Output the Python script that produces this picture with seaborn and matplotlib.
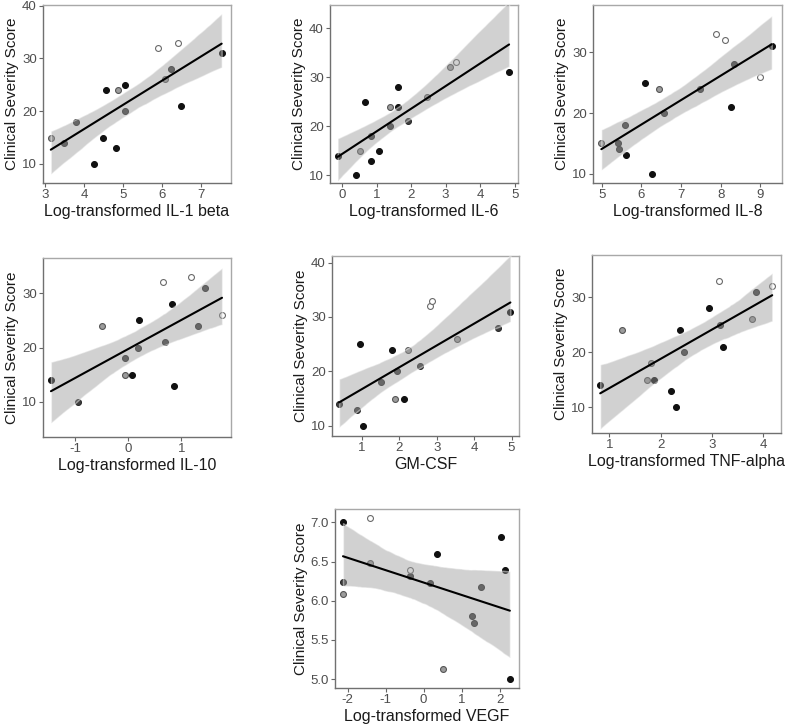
import matplotlib
matplotlib.use('Agg')
import matplotlib.pyplot as plt
import seaborn as sns
import pandas as pd

# --- data ---
il1b_x = [3.15, 3.50, 3.80, 4.26, 4.50, 4.56, 4.87, 5.04, 5.05, 4.82, 5.90, 6.07, 6.42, 6.24, 6.48, 7.53]
il1b_y = [15, 14, 18, 10, 15, 24, 24, 25, 20, 13, 32, 26, 33, 28, 21, 31]
il1b_shade = ['g', 'd', 'd', 'k', 'k', 'k', 'g', 'k', 'd', 'k', 'o', 'g', 'o', 'd', 'k', 'k']

il6_x = [-0.13, 0.39, 0.53, 0.67, 0.85, 0.84, 1.07, 1.38, 1.39, 1.62, 1.62, 1.90, 2.46, 3.13, 3.31, 4.84]
il6_y = [14, 10, 15, 25, 18, 13, 15, 24, 20, 28, 24, 21, 26, 32, 33, 31]
il6_shade = ['k', 'k', 'g', 'k', 'd', 'k', 'k', 'g', 'd', 'k', 'k', 'd', 'g', 'g', 'o', 'k']

il8_x = [4.99, 5.40, 5.44, 5.60, 5.61, 6.10, 6.27, 6.44, 6.58, 7.48, 7.88, 8.11, 8.26, 8.33, 8.99, 9.29]
il8_y = [15, 15, 14, 18, 13, 25, 10, 24, 20, 24, 33, 32, 21, 28, 26, 31]
il8_shade = ['g', 'd', 'd', 'd', 'k', 'k', 'k', 'g', 'd', 'd', 'o', 'o', 'k', 'd', 'o', 'k']

il10_x = [-1.46, -0.95, -0.50, -0.06, -0.06, 0.07, 0.18, 0.20, 0.65, 0.70, 0.83, 0.87, 1.18, 1.32, 1.45, 1.77]
il10_y = [14, 10, 24, 18, 15, 15, 20, 25, 32, 21, 28, 13, 33, 24, 31, 26]
il10_shade = ['k', 'd', 'g', 'd', 'g', 'k', 'd', 'k', 'o', 'd', 'k', 'k', 'o', 'd', 'd', 'o']

gmcsf_x = [0.39, 0.88, 0.96, 1.03, 1.51, 1.80, 1.88, 1.95, 2.13, 2.24, 2.55, 2.81, 2.88, 3.55, 4.63, 4.97]
gmcsf_y = [14, 13, 25, 10, 18, 24, 15, 20, 15, 24, 21, 32, 33, 26, 28, 31]
gmcsf_shade = ['d', 'd', 'k', 'k', 'd', 'k', 'g', 'd', 'k', 'g', 'd', 'o', 'o', 'g', 'd', 'k']

tnf_x = [0.82, 1.24, 1.74, 1.87, 1.80, 2.19, 2.30, 2.37, 2.45, 2.94, 3.13, 3.16, 3.22, 3.78, 3.86, 4.17]
tnf_y = [14, 24, 15, 15, 18, 13, 10, 24, 20, 28, 33, 25, 21, 26, 31, 32]
tnf_shade = ['k', 'g', 'g', 'k', 'g', 'k', 'k', 'k', 'd', 'k', 'o', 'd', 'k', 'g', 'd', 'o']

vegf_x = [-2.12, -2.12, -2.12, -1.42, -1.41, -0.35, -0.35, 0.18, 0.35, 0.50, 1.27, 1.33, 1.51, 2.03, 2.15, 2.27]
vegf_y = [7.00, 6.24, 6.09, 7.06, 6.48, 6.39, 6.32, 6.23, 6.60, 5.13, 5.80, 5.72, 6.18, 6.81, 6.39, 5.00]
vegf_shade = ['k', 'd', 'g', 'o', 'g', 'o', 'd', 'd', 'k', 'g', 'd', 'd', 'd', 'k', 'k', 'k']

xlabels = ['Log-transformed IL-1 beta', 'Log-transformed IL-6', 'Log-transformed IL-8',
           'Log-transformed IL-10', 'GM-CSF', 'Log-transformed TNF-alpha',
           'Log-transformed VEGF']
ylabel = 'Clinical Severity Score'

# marker look for each shade code: (face, edge)
shade_style = {
    'k': ('#111111', '#111111'),
    'd': ('#3f3f3f', '#2a2a2a'),
    'g': ('#9c9c9c', '#555555'),
    'o': ('#ffffff', '#6a6a6a'),
}

sns.set_style('white')
plt.rcParams['font.family'] = ['Liberation Sans', 'DejaVu Sans']
plt.rcParams['axes.unicode_minus'] = False

fig = plt.figure(figsize=(7.89, 7.27), dpi=100)

# panel boxes in figure fractions [left, bottom, width, height]
boxes = [
    [0.0545, 0.7483, 0.2383, 0.2448],
    [0.4183, 0.7483, 0.2383, 0.2448],
    [0.7516, 0.7483, 0.2395, 0.2448],
    [0.0545, 0.3989, 0.2383, 0.2462],
    [0.4208, 0.4003, 0.2370, 0.2476],
    [0.7503, 0.4044, 0.2395, 0.2448],
    [0.4246, 0.0536, 0.2332, 0.2462],
]
xlims = [(2.95, 7.77), (-0.35, 5.1), (4.78, 9.55), (-1.61, 1.94), (0.2, 5.2), (0.66, 4.34), (-2.33, 2.51)]
ylims = [(6.4, 40.1), (8.45, 44.7), (8.47, 37.8), (3.54, 36.5), (8.16, 41.2), (5.27, 37.7), (4.885, 7.17)]
xticks = [[3, 4, 5, 6, 7], [0, 1, 2, 3, 4, 5], [5, 6, 7, 8, 9], [-1, 0, 1], [1, 2, 3, 4, 5], [1, 2, 3, 4], [-2, -1, 0, 1, 2]]
yticks = [[10, 20, 30, 40], [10, 20, 30, 40], [10, 20, 30], [10, 20, 30], [10, 20, 30, 40], [10, 20, 30],
          [5.0, 5.5, 6.0, 6.5, 7.0]]

panels = [
    (il1b_x, il1b_y, il1b_shade),
    (il6_x, il6_y, il6_shade),
    (il8_x, il8_y, il8_shade),
    (il10_x, il10_y, il10_shade),
    (gmcsf_x, gmcsf_y, gmcsf_shade),
    (tnf_x, tnf_y, tnf_shade),
    (vegf_x, vegf_y, vegf_shade),
]

for i, (xs, ys, shades) in enumerate(panels):
    ax = fig.add_axes(boxes[i])
    df = pd.DataFrame({'x': xs, 'y': ys, 'shade': shades})

    # points first, then a see-through band + line on top (ggplot geom_smooth look)
    for code, sub in df.groupby('shade'):
        face, edge = shade_style[code]
        sns.scatterplot(data=sub, x='x', y='y', ax=ax, color=face, edgecolor=edge,
                        s=18, linewidth=0.8, zorder=2, legend=False)

    sns.regplot(data=df, x='x', y='y', ax=ax, scatter=False, ci=95, n_boot=2000, seed=1,
                color='black', line_kws={'lw': 1.5, 'zorder': 4})
    for coll in ax.collections:
        if 'Poly' in type(coll).__name__:
            coll.set_facecolor('#999999')
            coll.set_alpha(0.45)
            coll.set_zorder(3)

    ax.set_xlim(xlims[i])
    ax.set_ylim(ylims[i])
    ax.set_xticks(xticks[i])
    ax.set_yticks(yticks[i])
    if i == 6:
        ax.set_yticklabels([f'{v:.1f}' for v in yticks[i]])
    ax.set_xlabel(xlabels[i], fontsize=11.5, color='#1a1a1a', labelpad=2)
    ax.set_ylabel(ylabel, fontsize=11, color='#1a1a1a', labelpad=2)
    ax.tick_params(axis='both', which='both', direction='out', length=3, width=0.8,
                   color='#666666', labelsize=9.5, labelcolor='#4d4d4d', pad=1.5,
                   bottom=True, left=True)
    for side, sp in ax.spines.items():
        sp.set_visible(True)
        sp.set_linewidth(1.0)
        sp.set_color('#707070' if side in ('left', 'bottom') else '#a8a8a8')

fig.savefig('out.png', dpi=100)
